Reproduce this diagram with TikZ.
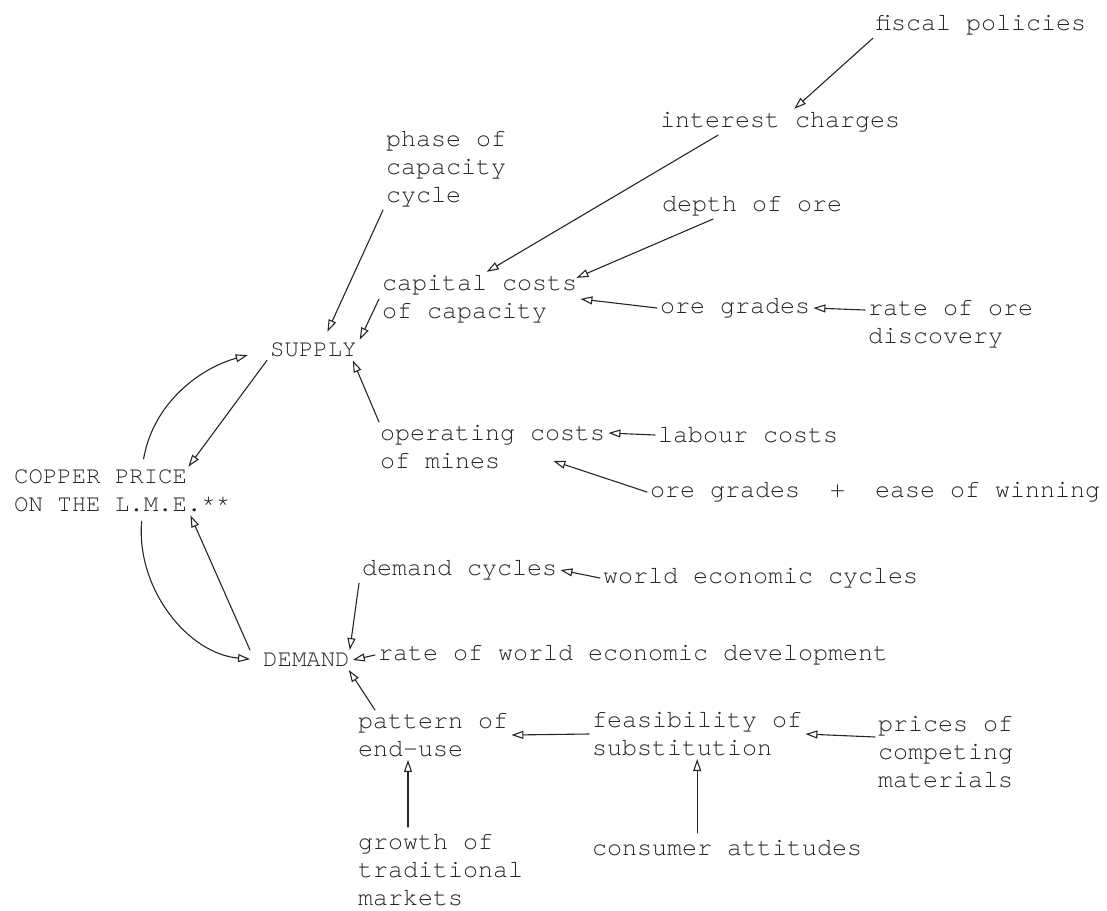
\documentclass[tikz,border=0pt]{standalone}
\usepackage{fontspec}
\setmonofont{TeX Gyre Cursor}
\usetikzlibrary{arrows.meta}
\newcommand{\tw}{\fontsize{25}{28}\selectfont\ttfamily}
\newcommand{\tc}{\fontsize{24}{28}\selectfont\ttfamily}
\begin{document}
\begin{tikzpicture}[x=1pt,y=-1pt,line join=round,line cap=round,
		>={Triangle[open,length=12pt,width=8pt]},
		lbl/.style={font=\tw,text=black!85,inner sep=3pt,align=left,anchor=west},
		caps/.style={lbl,font=\tc},
		arr/.style={->,line width=1.1pt,draw=black!85}]
	\useasboundingbox (0,0) rectangle (1107,910);
	% supply side
	\node[lbl] (fiscal) at (873,25) {fiscal policies};
	\node[lbl] (interest) at (657,122) {interest charges};
	\node[lbl] (phase) at (383,169) {phase of\\capacity\\cycle};
	\node[lbl] (depth) at (659,206) {depth of ore};
	\node[lbl] (capital) at (379,299) {capital costs\\of capacity};
	\node[lbl] (oregr) at (657,308) {ore grades};
	\node[lbl] (rateore) at (865,324) {rate of ore\\discovery};
	\node[caps] (supply) at (267,350) {SUPPLY};
	\node[lbl] (operating) at (377,447) {operating costs\\of mines};
	\node[lbl] (labour) at (655,435) {labour costs};
	\node[lbl] (ease) at (647,492) {ore grades\ \ +\ \ ease of winning};
	\node[caps] (copper) at (11,491) {COPPER PRICE\\ON THE L.M.E.**};
	% demand side
	\node[lbl] (demcyc) at (359,570) {demand cycles};
	\node[lbl] (worldcyc) at (600,578) {world economic cycles};
	\node[caps] (demand) at (260,660) {DEMAND};
	\node[lbl] (rateworld) at (375,655) {rate of world economic development};
	\node[lbl] (pattern) at (355,735) {pattern of\\end-use};
	\node[lbl] (feasib) at (589,734) {feasibility of\\substitution};
	\node[lbl] (prices) at (875,752) {prices of\\competing\\materials};
	\node[lbl] (growth) at (355,870) {growth of\\traditional\\markets};
	\node[lbl] (consumer) at (589,848) {consumer attitudes};

	\draw[arr] (fiscal.south west) -- ([xshift=14pt]interest.north);
	\draw[arr] ([xshift=61pt]interest.south west) -- ([xshift=7pt]capital.north);
	\draw[arr] ([xshift=54pt]depth.south west) -- ([xshift=-4pt,yshift=-6pt]capital.north east);
	\draw[arr] (oregr.west) -- (capital.east);
	\draw[arr] ([yshift=14pt]rateore.west) -- (oregr.east);
	\draw[arr] (phase.south west) -- ([xshift=14pt,yshift=8pt]supply.north);
	\draw[arr] (capital.west) -- (supply.north east);
	\draw[arr] ([xshift=2pt]operating.north west) -- ([xshift=-7pt]supply.south east);
	\draw[arr] (labour.west) -- ([yshift=14pt]operating.east);
	\draw[arr] (ease.west) -- ([xshift=-55pt,yshift=-14pt]operating.east);
	\draw[arr] (supply.south west) -- ([xshift=-45pt]copper.north east);
	\draw[arr,shorten <=8pt,shorten >=20pt] ([xshift=20pt]copper.north) to[out=80,in=195] (supply.west);
	\draw[arr,shorten <=6pt,shorten >=10pt] ([xshift=20pt]copper.south) to[out=-95,in=175] (demand.west);
	\draw[arr] ([xshift=-10pt]demand.north west) -- ([xshift=-43pt]copper.south east);
	\draw[arr] (demcyc.south west) -- ([xshift=-3pt]demand.north east);
	\draw[arr] (rateworld.west) -- (demand.east);
	\draw[arr] (worldcyc.west) -- (demcyc.east);
	\draw[arr] ([xshift=20pt]pattern.north west) -- ([xshift=-4pt]demand.south east);
	\draw[arr] (feasib.west) -- (pattern.east);
	\draw[arr] ([yshift=15pt]prices.west) -- (feasib.east);
	\draw[arr] ([xshift=53pt,yshift=4pt]growth.north west) -- ([xshift=53pt]pattern.south west);
	\draw[arr] ([yshift=4pt]consumer.north -| feasib.south) -- (feasib.south);
\end{tikzpicture}
\end{document}
